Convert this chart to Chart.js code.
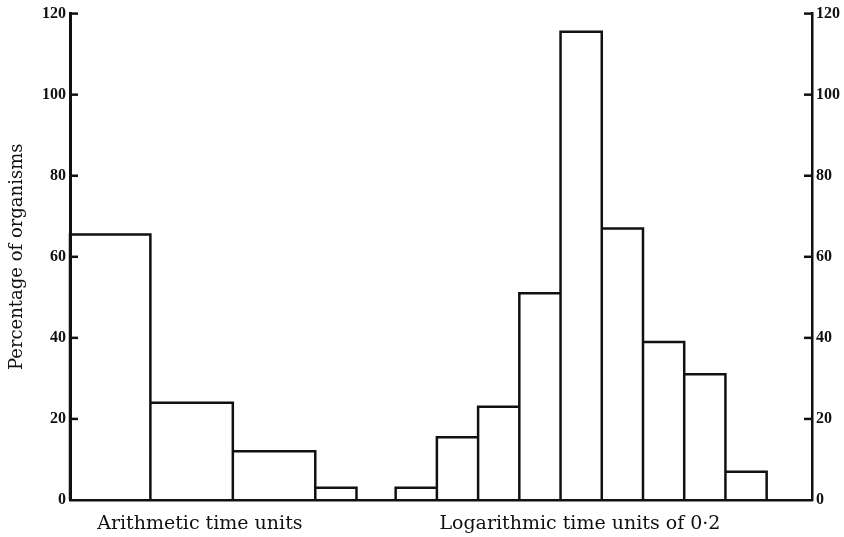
<!DOCTYPE html>
<html><head><meta charset="utf-8">
<script src="https://cdn.jsdelivr.net/npm/chart.js@4.4.0/dist/chart.umd.min.js"></script>
<style>html,body{margin:0;padding:0;background:#fff;} #wrap{width:844px;height:537px;position:relative;}</style>
</head><body><div id="wrap"><canvas id="c" width="844" height="537"></canvas></div>
<script>
// ---- data ----
const groupLabels = ["Arithmetic time units", "Logarithmic time units of 0·2"];
const groupCentres = [3.15, 12.37];
const arithmeticEdges = [0, 1.95, 3.95, 5.95, 6.95];
const arithmeticValues = [65.5, 24, 12, 3];
const logEdges = [7.9, 8.9, 9.9, 10.9, 11.9, 12.9, 13.9, 14.9, 15.9, 16.9];
const logValues = [3, 15.5, 23, 51, 115.5, 67, 39, 31, 7];
const yTicks = [0, 20, 40, 60, 80, 100, 120];
const yTitle = "Percentage of organisms";

function outline(edges, values) {
  const pts = [{x: edges[0], y: 0}];
  for (let i = 0; i < values.length; i++) {
    pts.push({x: edges[i], y: values[i]}, {x: edges[i + 1], y: values[i]}, {x: edges[i + 1], y: 0});
  }
  return pts;
}

const INK = '#111';
const SERIF = '"DejaVu Serif", "Liberation Serif", serif';
const TICKFONT = '"Liberation Serif", "DejaVu Serif", serif';

const inwardTicks = {
  id: 'inwardTicks',
  afterDatasetsDraw(chart) {
    const ctx = chart.ctx;
    ctx.save();
    ctx.strokeStyle = INK;
    ctx.lineWidth = 2.5;
    ['y', 'y2'].forEach(id => {
      const s = chart.scales[id];
      const x0 = id === 'y' ? s.right : s.left;
      const dir = id === 'y' ? 1 : -1;
      s.ticks.forEach(t => {
        if (t.value === 0) return;
        const py = s.getPixelForValue(t.value);
        ctx.beginPath();
        ctx.moveTo(x0, py);
        ctx.lineTo(x0 + dir * 8, py);
        ctx.stroke();
      });
    });
    ctx.restore();
  }
};

const yCommon = {
  min: 0, max: 120,
  afterBuildTicks: s => { s.ticks = yTicks.map(v => ({value: v})); },
  grid: {display: true, drawOnChartArea: false, drawTicks: false},
  ticks: {color: INK, padding: 4, autoSkip: false, font: {family: TICKFONT, size: 16, weight: 'bold'}}
};

new Chart(document.getElementById('c'), {
  type: 'scatter',
  data: {
    datasets: [
      {label: 'Arithmetic', data: outline(arithmeticEdges, arithmeticValues)},
      {label: 'Logarithmic', data: outline(logEdges, logValues)}
    ].map(d => Object.assign(d, {
      showLine: true, pointRadius: 0, borderColor: INK, borderWidth: 2.5,
      borderJoinStyle: 'miter', tension: 0, fill: false, clip: false
    }))
  },
  options: {
    responsive: false,
    animation: false,
    devicePixelRatio: 1,
    layout: {padding: {top: 12, right: 0, left: 0, bottom: 0}},
    plugins: {legend: {display: false}, tooltip: {enabled: false}},
    scales: {
      x: {
        type: 'linear', min: 0, max: 18, position: 'bottom',
        afterBuildTicks: s => { s.ticks = groupCentres.map(v => ({value: v})); },
        afterFit: s => { s.height = 37; },
        grid: {display: true, drawOnChartArea: false, drawTicks: false},
        border: {display: true, color: INK, width: 2.5},
        ticks: {
          color: INK, padding: 13, maxRotation: 0, autoSkip: false,
          font: {family: SERIF, size: 19},
          callback: (v, i) => groupLabels[i]
        }
      },
      y: Object.assign({}, yCommon, {
        position: 'left',
        border: {display: true, color: INK, width: 3},
        afterFit: s => { s.width = 70; },
        title: {display: true, text: yTitle, color: INK, padding: {top: 7, bottom: 0},
                font: {family: SERIF, size: 18}}
      }),
      y2: Object.assign({}, yCommon, {
        position: 'right',
        border: {display: true, color: INK, width: 2.5},
        afterFit: s => { s.width = 32; }
      })
    }
  },
  plugins: [inwardTicks]
});
</script>
</body></html>
